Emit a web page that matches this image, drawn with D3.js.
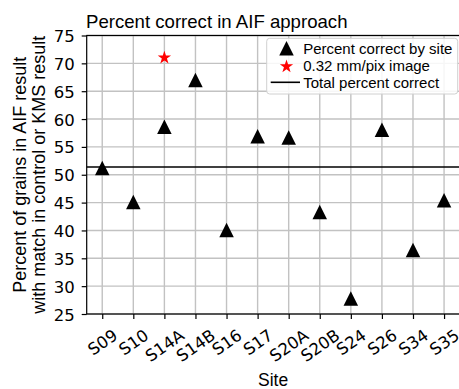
<!DOCTYPE html>
<html>
<head>
<meta charset="utf-8">
<script src="https://cdn.jsdelivr.net/npm/d3@7"></script>
<style>
  html, body { margin: 0; padding: 0; background: #ffffff; }
  svg { display: block; font-family: "Liberation Sans", Arial, Helvetica, sans-serif; }
</style>
</head>
<body>
<svg id="chart" width="459" height="389"></svg>
<script>
// Sites along the x axis
const sites = ["S09", "S10", "S14A", "S14B", "S16", "S17", "S20A", "S20B", "S24", "S26", "S34", "S35"];
// Percent of grains correct per site
const percentCorrect = [51.2, 45.1, 58.6, 67.0, 40.1, 56.9, 56.7, 43.3, 27.8, 58.1, 36.5, 45.4];
// Result from the 0.32 mm/pix image
const highResSites = ["S14A"];
const highResValues = [71.0];
// Overall percent correct across all sites
const totalPercent = 51.4;
// Axis ticks
const yTicks = [25, 30, 35, 40, 45, 50, 55, 60, 65, 70, 75];
// Legend labels
const legendLabels = ["Percent correct by site", "0.32 mm/pix image", "Total percent correct"];

const svg = d3.select("#chart");
const plotL = 86.7, plotR = 459.6, plotT = 35.5, plotB = 314;
const tickFont = "'DejaVu Sans', Verdana, sans-serif";
const tickSize = 16.5;
const xRot = 35;

const x = d3.scalePoint().domain(sites).range([plotL, plotR]).padding(0.5);
const y = d3.scaleLinear().domain([25, 75]).range([plotB, plotT]);

const gridColor = "#c2c2c2";

// Grid lines
const grid = svg.append("g");
grid.selectAll("line.gx").data(sites).join("line")
  .attr("x1", d => x(d)).attr("x2", d => x(d))
  .attr("y1", plotT).attr("y2", plotB)
  .attr("stroke", gridColor).attr("stroke-width", 1.4);
grid.selectAll("line.gy").data(yTicks).join("line")
  .attr("x1", plotL).attr("x2", plotR)
  .attr("y1", d => y(d)).attr("y2", d => y(d))
  .attr("stroke", gridColor).attr("stroke-width", 1.4);

// Y axis
const yAxis = svg.append("g")
  .attr("transform", `translate(${plotL},0)`)
  .call(d3.axisLeft(y).tickValues(yTicks).tickSize(5).tickPadding(7));
yAxis.select(".domain").remove();
yAxis.selectAll(".tick line").attr("stroke", "#000").attr("stroke-width", 1.2);
yAxis.selectAll(".tick text")
  .attr("font-size", tickSize).attr("fill", "#000")
  .attr("font-family", tickFont)
  .attr("dy", null).attr("dominant-baseline", "auto")
  .attr("y", 6);

// X axis, labels rotated and centred under each tick
const xAxis = svg.append("g")
  .attr("transform", `translate(0,${plotB})`)
  .call(d3.axisBottom(x).tickSize(5).tickPadding(0));
xAxis.select(".domain").remove();
xAxis.selectAll(".tick line").attr("stroke", "#000").attr("stroke-width", 1.2);
const ang = xRot * Math.PI / 180;
xAxis.selectAll(".tick text")
  .attr("font-size", tickSize).attr("fill", "#000")
  .attr("font-family", tickFont)
  .attr("text-anchor", "middle")
  .attr("dy", null)
  .attr("dominant-baseline", "central")
  .each(function() {
    const w = this.getComputedTextLength();
    const h = tickSize * 1.17;
    const cy = 11.5 + (w * Math.sin(ang) + h * Math.cos(ang)) / 2;
    d3.select(this).attr("y", 0).attr("transform", `translate(0,${cy}) rotate(${-xRot})`);
  });

// Total percent line
svg.append("line")
  .attr("x1", plotL).attr("x2", plotR)
  .attr("y1", y(totalPercent)).attr("y2", y(totalPercent))
  .attr("stroke", "#000").attr("stroke-width", 1.6);

// Marker shapes
const triSize = 14.5;
const triPath = `M0,${-triSize / 2}L${triSize / 2},${triSize / 2}L${-triSize / 2},${triSize / 2}Z`;
function starPath(r) {
  const ri = r * 0.381966;
  let p = "";
  for (let i = 0; i < 10; i++) {
    const rad = i % 2 === 0 ? r : ri;
    const a = -Math.PI / 2 + i * Math.PI / 5;
    p += (i === 0 ? "M" : "L") + (rad * Math.cos(a)).toFixed(2) + "," + (rad * Math.sin(a)).toFixed(2);
  }
  return p + "Z";
}

// Per-site markers
svg.append("g").selectAll("path").data(sites).join("path")
  .attr("d", triPath)
  .attr("transform", (d, i) => `translate(${x(d)},${y(percentCorrect[i])})`)
  .attr("fill", "#000");

// High-resolution image marker
svg.append("g").selectAll("path").data(highResSites).join("path")
  .attr("d", starPath(7))
  .attr("transform", (d, i) => `translate(${x(d)},${y(highResValues[i])})`)
  .attr("fill", "#ff0000");

// Spines
svg.append("rect")
  .attr("x", plotL).attr("y", plotT)
  .attr("width", plotR - plotL).attr("height", plotB - plotT)
  .attr("fill", "none").attr("stroke", "#000").attr("stroke-width", 1.2);

// Legend
const lg = svg.append("g");
lg.append("rect")
  .attr("x", 266.7).attr("y", 38.3).attr("width", 191).attr("height", 55.7)
  .attr("rx", 3).attr("ry", 3)
  .attr("fill", "#ffffff").attr("fill-opacity", 0.85)
  .attr("stroke", "#d0d0d0").attr("stroke-width", 1);
const rowY = [48.3, 66, 82.3];
lg.append("path").attr("d", triPath)
  .attr("transform", `translate(286.5,${rowY[0]})`).attr("fill", "#000");
lg.append("path").attr("d", starPath(7))
  .attr("transform", `translate(286.5,${rowY[1] + 0.5})`).attr("fill", "#ff0000");
lg.append("line")
  .attr("x1", 270.7).attr("x2", 300).attr("y1", rowY[2]).attr("y2", rowY[2])
  .attr("stroke", "#000").attr("stroke-width", 1.6);
lg.selectAll("text").data(legendLabels).join("text")
  .attr("x", 303.2)
  .attr("y", (d, i) => rowY[i] + 5.2)
  .attr("font-size", 15)
  .attr("fill", "#000")
  .text(d => d);

// Title
svg.append("text")
  .attr("x", 86).attr("y", 27.7)
  .attr("font-size", 18.6).attr("fill", "#000")
  .text("Percent correct in AIF approach");

// Y axis label (two lines)
const yl = svg.append("text")
  .attr("transform", `translate(0,${(plotT + plotB) / 2}) rotate(-90)`)
  .attr("text-anchor", "middle")
  .attr("font-size", 18).attr("fill", "#000");
yl.append("tspan").attr("x", 0).attr("y", 25.5).text("Percent of grains in AIF result");
yl.append("tspan").attr("x", 0).attr("y", 45).text("with match in control or KMS result");

// X axis label
svg.append("text")
  .attr("x", (plotL + plotR) / 2).attr("y", 386.3)
  .attr("text-anchor", "middle")
  .attr("font-size", 17.5).attr("fill", "#000")
  .text("Site");
</script>
</body>
</html>
